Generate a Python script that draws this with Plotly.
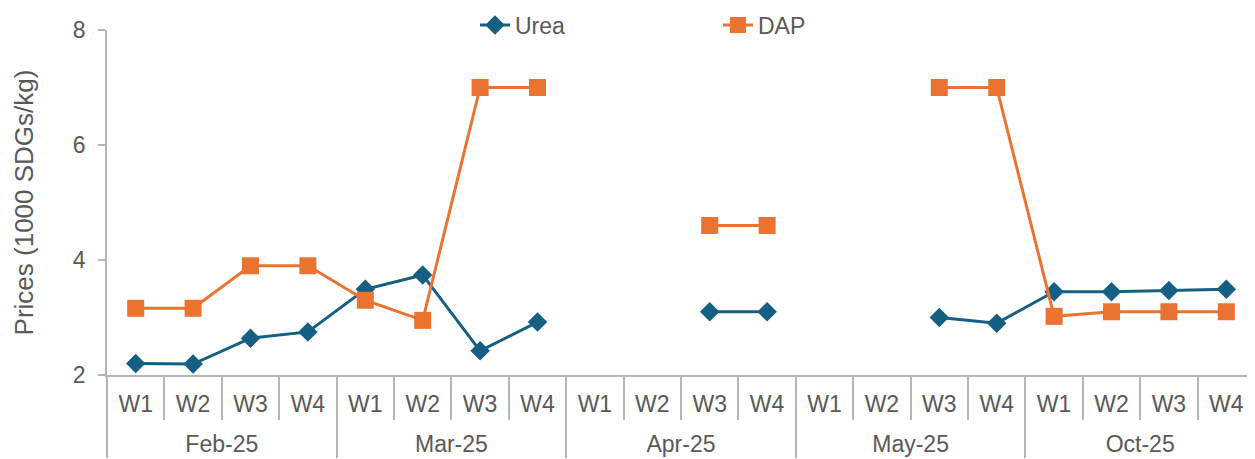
import plotly.graph_objects as go

months = ["Feb-25"] * 4 + ["Mar-25"] * 4 + ["Apr-25"] * 4 + ["May-25"] * 4 + ["Oct-25"] * 4
weeks = ["W1", "W2", "W3", "W4"] * 5

urea = [2.2, 2.19, 2.64, 2.75,
        3.49, 3.74, 2.42, 2.92,
        None, None, 3.1, 3.1,
        None, None, 3.0, 2.9,
        3.45, 3.45, 3.47, 3.49]
dap = [3.16, 3.16, 3.9, 3.9,
       3.3, 2.95, 7.0, 7.0,
       None, None, 4.6, 4.6,
       None, None, 7.0, 7.0,
       3.02, 3.1, 3.1, 3.1]

UREA_COLOR = "#155F82"
DAP_COLOR = "#EB7332"
GREY = "#B5B5B5"
TXT = "#595959"
FONT = "Liberation Sans, Arial, sans-serif"
LBL = "<span style='font-size:23px'>{}</span>"

# displayed labels: week labels carry a tiny spacer line so the month row sits lower
week_labels = [LBL.format(w) + "<br><span style='font-size:1px'>\u00a0</span>" for w in weeks]
month_labels = [LBL.format(m) for m in months]

fig = go.Figure()
fig.add_trace(go.Scatter(
    x=[month_labels, week_labels], y=urea, name="Urea", mode="lines+markers",
    line=dict(color=UREA_COLOR, width=3),
    marker=dict(symbol="diamond", size=15, color=UREA_COLOR),
    connectgaps=False,
))
fig.add_trace(go.Scatter(
    x=[month_labels, week_labels], y=dap, name="DAP", mode="lines+markers",
    line=dict(color=DAP_COLOR, width=3),
    marker=dict(symbol="square", size=17, color=DAP_COLOR),
    connectgaps=False,
))

fig.update_layout(
    width=1247, height=451,
    margin=dict(l=99, r=0, t=22, b=84, autoexpand=False),
    paper_bgcolor="white", plot_bgcolor="white",
    font=dict(family=FONT, size=22, color=TXT),
    showlegend=True,
    legend=dict(orientation="h", xref="container", yref="container",
                x=0.3745, xanchor="left", y=0.962, yanchor="middle",
                font=dict(size=23, color=TXT), entrywidth=198, bgcolor="rgba(0,0,0,0)"),
)
fig.update_xaxes(
    type="multicategory", range=[-0.5, 19.5],
    showline=True, linecolor=GREY, linewidth=1.5,
    ticks="outside", tickcolor=GREY, ticklen=43, tickwidth=1.5,
    ticklabelstandoff=10,
    showdividers=True, dividercolor=GREY, dividerwidth=1.5,
    showgrid=False, zeroline=False,
    tickfont=dict(size=21, color=TXT),
)
fig.update_yaxes(
    range=[2, 8], tickvals=[2, 4, 6, 8],
    showline=True, linecolor=GREY, linewidth=1.5,
    ticks="outside", tickcolor=GREY, ticklen=7, tickwidth=1.5,
    ticklabelstandoff=8,
    showgrid=False, zeroline=False,
    title=dict(text="Prices (1000 SDGs/kg)", font=dict(size=26, color=TXT), standoff=32),
    tickfont=dict(size=23, color=TXT),
)

fig.write_html("out.html")
